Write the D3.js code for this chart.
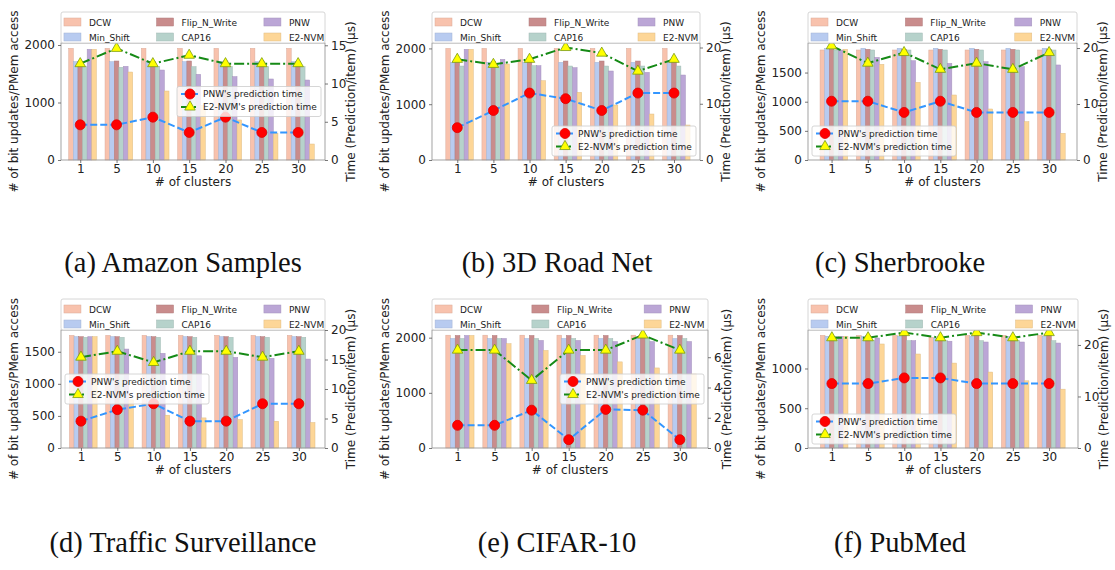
<!DOCTYPE html>
<html>
<head>
<meta charset="utf-8">
<script src="https://cdn.jsdelivr.net/npm/d3@7"></script>
<style>
body { margin: 0; background: #fff; }
text { font-family: "DejaVu Sans", sans-serif; }
</style>
</head>
<body>
<svg id="chart" width="1115" height="570"></svg>
<script>
// categories and series
var clusters = ["1", "5", "10", "15", "20", "25", "30"];
var methods = ["DCW", "Min_Shift", "Flip_N_Write", "CAP16", "PNW", "E2-NVM"];
var lineNames = ["PNW's prediction time", "E2-NVM's prediction time"];
var captions = ["(a) Amazon Samples", "(b) 3D Road Net", "(c) Sherbrooke",
                "(d) Traffic Surveillance", "(e) CIFAR-10", "(f) PubMed"];

// bit updates per PMem access, one row per method (DCW .. E2-NVM)
var amazonBits = [
  [1942, 1942, 1942, 1942, 1942, 1942, 1942],
  [1710, 1710, 1710, 1710, 1710, 1710, 1710],
  [1710, 1722, 1710, 1722, 1722, 1722, 1710],
  [1623, 1612, 1623, 1623, 1623, 1623, 1623],
  [1925, 1629, 1565, 1490, 1450, 1409, 1391],
  [1925, 1530, 1200, 950, 696, 464, 278]
];
var roadBits = [
  [2000, 2000, 2000, 2000, 2000, 2000, 2000],
  [1750, 1750, 1750, 1750, 1750, 1750, 1750],
  [1750, 1762, 1762, 1774, 1774, 1774, 1774],
  [1684, 1690, 1690, 1684, 1684, 1684, 1684],
  [1984, 1804, 1690, 1655, 1595, 1571, 1523],
  [1984, 1720, 1421, 1213, 986, 824, 627]
];
var sherbrookeBits = [
  [1887, 1887, 1887, 1887, 1887, 1887, 1887],
  [1916, 1916, 1916, 1916, 1916, 1916, 1916],
  [1899, 1899, 1899, 1899, 1899, 1899, 1899],
  [1887, 1887, 1887, 1887, 1887, 1887, 1887],
  [1887, 1761, 1703, 1658, 1686, 1600, 1630],
  [1899, 1641, 1332, 1115, 875, 657, 458]
];
var trafficBits = [
  [1755, 1755, 1755, 1755, 1755, 1755, 1755],
  [1735, 1735, 1735, 1735, 1735, 1735, 1735],
  [1735, 1735, 1735, 1735, 1735, 1735, 1735],
  [1725, 1725, 1725, 1725, 1725, 1725, 1725],
  [1735, 1542, 1475, 1437, 1412, 1397, 1386],
  [1735, 750, 511, 469, 443, 417, 397]
];
var cifarBits = [
  [2045, 2045, 2045, 2045, 2045, 2045, 2045],
  [1985, 1985, 1985, 1985, 1985, 1985, 1985],
  [2040, 2040, 2040, 2040, 2040, 2040, 2040],
  [1985, 1985, 1985, 1985, 1985, 1985, 1985],
  [2040, 1985, 1950, 1950, 1930, 1930, 1930],
  [2040, 1890, 1768, 1676, 1561, 1451, 1340]
];
var pubmedBits = [
  [1417, 1417, 1417, 1392, 1417, 1417, 1417],
  [1405, 1405, 1405, 1383, 1405, 1405, 1405],
  [1405, 1417, 1430, 1405, 1430, 1405, 1430],
  [1405, 1350, 1350, 1350, 1350, 1350, 1350],
  [1405, 1383, 1350, 1343, 1333, 1333, 1320],
  [1405, 1308, 1182, 1068, 955, 845, 740]
];

// prediction time (us / item)
var amazonPNWTime = [4.6, 4.6, 5.6, 3.6, 5.6, 3.6, 3.6];
var amazonE2Time = [12.6, 14.6, 12.6, 13.7, 12.6, 12.6, 12.6];
var roadPNWTime = [5.75, 8.8, 11.9, 10.9, 8.8, 11.9, 11.9];
var roadE2Time = [17.9, 17.0, 17.9, 20.0, 19.0, 15.8, 17.9];
var sherbrookePNWTime = [10.5, 10.5, 8.5, 10.5, 8.5, 8.5, 8.5];
var sherbrookeE2Time = [20.4, 17.3, 19.2, 16.2, 17.3, 16.2, 19.2];
var trafficPNWTime = [4.55, 6.5, 7.5, 4.55, 4.55, 7.5, 7.5];
var trafficE2Time = [15.4, 16.4, 14.5, 16.4, 16.4, 15.4, 16.4];
var cifarPNWTime = [1.5, 1.5, 2.5, 0.55, 2.55, 2.5, 0.55];
var cifarE2Time = [6.47, 6.47, 4.47, 6.47, 6.47, 7.47, 6.47];
var pubmedPNWTime = [12.5, 12.5, 13.6, 13.6, 12.5, 12.5, 12.5];
var pubmedE2Time = [21.4, 21.4, 22.4, 21.4, 22.4, 21.4, 22.4];

// tick labels and axis ranges
var leftTicks = [[0, 1000, 2000], [0, 1000, 2000], [0, 500, 1000, 1500],
                 [0, 500, 1000, 1500], [0, 1000, 2000], [0, 500, 1000]];
var rightTicks = [[0, 5, 10, 15], [0, 10, 20], [0, 10, 20],
                  [0, 5, 10, 15, 20], [0, 2, 4, 6], [0, 10, 20]];
var leftMax = [2035, 2097, 2007, 1839, 2139, 1484];
var rightMax = [15.3, 20.8, 20.9, 20, 7.8, 22.9];

var panels = [
  { bits: amazonBits, pnw: amazonPNWTime, e2: amazonE2Time },
  { bits: roadBits, pnw: roadPNWTime, e2: roadE2Time },
  { bits: sherbrookeBits, pnw: sherbrookePNWTime, e2: sherbrookeE2Time },
  { bits: trafficBits, pnw: trafficPNWTime, e2: trafficE2Time },
  { bits: cifarBits, pnw: cifarPNWTime, e2: cifarE2Time },
  { bits: pubmedBits, pnw: pubmedPNWTime, e2: pubmedE2Time }
];

// layout of each axes box
var boxes = [
  { x: 61, y: 43, w: 264, h: 117, xlim: [-0.53, 6.74], legend: "center right" },
  { x: 432, y: 43, w: 268, h: 117, xlim: [-0.70, 6.72], legend: "lower right" },
  { x: 808, y: 43, w: 269, h: 117, xlim: [-0.65, 6.77], legend: "lower left" },
  { x: 61, y: 330, w: 264, h: 118, xlim: [-0.55, 6.72], legend: "center left" },
  { x: 432, y: 330, w: 276, h: 118, xlim: [-0.69, 6.76], legend: "center right" },
  { x: 808, y: 330, w: 270, h: 118, xlim: [-0.66, 6.80], legend: "lower left" }
];
var captionX = [183, 557, 900];
var captionY = [272, 552];

var colors = ["#f8c2ad", "#b8cbf0", "#c98c8c", "#b6d2cb", "#bba6d6", "#fdd697"];
var pnwColor = "#3396ff";
var e2Color = "#168a16";
var barW = 0.127;

var svg = d3.select("#chart");

function styleAxis(sel) {
  sel.select(".domain").remove();
  sel.selectAll(".tick line").attr("stroke", "#555").attr("stroke-width", 0.8);
  sel.selectAll(".tick text").attr("fill", "#222").style("font-size", "12px")
    .style("font-family", "'DejaVu Sans', sans-serif");
}

function drawPanel(p, box, idx) {
  var g = svg.append("g").attr("transform", "translate(" + box.x + "," + box.y + ")");
  var x = d3.scaleLinear().domain(box.xlim).range([0, box.w]);
  var yL = d3.scaleLinear().domain([0, leftMax[idx]]).range([box.h, 0]);
  var yR = d3.scaleLinear().domain([0, rightMax[idx]]).range([box.h, 0]);
  var bwPx = x(barW) - x(0);

  // bars
  p.bits.forEach(function(vals, k) {
    g.selectAll(null)
      .data(vals)
      .enter().append("rect")
      .attr("x", function(d, i) { return x(i + (k - 2.5) * barW); })
      .attr("width", bwPx)
      .attr("y", function(d) { return yL(d); })
      .attr("height", function(d) { return box.h - yL(d); })
      .attr("fill", colors[k])
      .attr("stroke", d3.color(colors[k]).darker(0.35))
      .attr("stroke-width", 0.5);
  });

  // lines
  var line = d3.line()
    .x(function(d, i) { return x(i); })
    .y(function(d) { return yR(d); });
  g.append("path").datum(p.e2).attr("d", line)
    .attr("fill", "none").attr("stroke", e2Color).attr("stroke-width", 2)
    .attr("stroke-dasharray", "10,3,2,3");
  g.append("path").datum(p.pnw).attr("d", line)
    .attr("fill", "none").attr("stroke", pnwColor).attr("stroke-width", 2)
    .attr("stroke-dasharray", "7,3");

  g.selectAll(null).data(p.pnw).enter().append("circle")
    .attr("cx", function(d, i) { return x(i); })
    .attr("cy", function(d) { return yR(d); })
    .attr("r", 5)
    .attr("fill", "#ff0000").attr("stroke", "#e00000").attr("stroke-width", 0.8);
  g.selectAll(null).data(p.e2).enter().append("path")
    .attr("d", d3.symbol(d3.symbolTriangle, 48))
    .attr("transform", function(d, i) { return "translate(" + x(i) + "," + yR(d) + ")"; })
    .attr("fill", "#ffff00").attr("stroke", "#7a9a10").attr("stroke-width", 0.8);

  // frame
  g.append("rect").attr("width", box.w).attr("height", box.h)
    .attr("fill", "none").attr("stroke", "#999").attr("stroke-width", 0.9);

  // axes
  g.append("g").attr("transform", "translate(0," + box.h + ")")
    .call(d3.axisBottom(x).tickValues(d3.range(clusters.length))
      .tickFormat(function(i) { return clusters[i]; }).tickSize(3).tickPadding(1))
    .call(styleAxis);
  g.append("g")
    .call(d3.axisLeft(yL).tickValues(leftTicks[idx]).tickFormat(d3.format("d"))
      .tickSize(3).tickPadding(3))
    .call(styleAxis);
  var rAxis = g.append("g").attr("transform", "translate(" + box.w + ",0)")
    .call(d3.axisRight(yR).tickValues(rightTicks[idx]).tickFormat(d3.format("d"))
      .tickSize(3).tickPadding(3))
    .call(styleAxis);

  var maxLabel = 0;
  rAxis.selectAll(".tick text").each(function() {
    maxLabel = Math.max(maxLabel, this.getComputedTextLength());
  });

  // axis titles
  g.append("text").attr("x", box.w / 2).attr("y", box.h + 26)
    .attr("text-anchor", "middle").style("font-size", "12px").attr("fill", "#222")
    .text("# of clusters");
  g.append("text")
    .attr("transform", "translate(-43," + (box.h / 2) + ") rotate(-90)")
    .attr("text-anchor", "middle").style("font-size", "12px").attr("fill", "#222")
    .text("# of bit updates/PMem access");
  g.append("text")
    .attr("transform", "translate(" + (box.w + maxLabel + 15) + "," + (box.h / 2) + ") rotate(-90)")
    .attr("text-anchor", "middle").style("font-size", "12px").attr("fill", "#222")
    .text("Time (Prediction/item) (\u00b5s)");

  // bar legend above the axes
  var lg = g.append("g").attr("transform", "translate(0," + (-31) + ")");
  lg.append("rect").attr("width", box.w).attr("height", 31).attr("rx", 2)
    .attr("fill", "#fff").attr("stroke", "#ccc").attr("stroke-width", 0.8);
  var colX = [3, 97, 206].map(function(v) { return v * box.w / 268; });
  methods.forEach(function(m, k) {
    var cx = colX[Math.floor(k / 2)];
    var cy = k % 2 === 0 ? 5 : 20;
    lg.append("rect").attr("x", cx).attr("y", cy + 1).attr("width", 17).attr("height", 8)
      .attr("fill", colors[k]).attr("stroke", d3.color(colors[k]).darker(0.35)).attr("stroke-width", 0.5);
    lg.append("text").attr("x", cx + 25).attr("y", cy + 8.5)
      .style("font-size", "9px").attr("fill", "#222").text(m);
  });

  // line legend inside the axes
  var lw = 144, lh = 30, pad = 4;
  var lx = box.legend.indexOf("left") >= 0 ? pad : box.w - pad - lw;
  var ly = box.legend.indexOf("lower") >= 0 ? box.h - pad - lh : box.h / 2 - lh / 2;
  var ll = g.append("g").attr("transform", "translate(" + lx + "," + ly + ")");
  ll.append("rect").attr("width", lw).attr("height", lh).attr("rx", 2)
    .attr("fill", "#fff").attr("fill-opacity", 0.8).attr("stroke", "#ccc").attr("stroke-width", 0.8);
  ll.append("line").attr("x1", 4).attr("x2", 22).attr("y1", 7.5).attr("y2", 7.5)
    .attr("stroke", pnwColor).attr("stroke-width", 2).attr("stroke-dasharray", "7,3");
  ll.append("circle").attr("cx", 13).attr("cy", 7.5).attr("r", 5)
    .attr("fill", "#ff0000").attr("stroke", "#e00000").attr("stroke-width", 0.8);
  ll.append("line").attr("x1", 4).attr("x2", 22).attr("y1", 20.5).attr("y2", 20.5)
    .attr("stroke", e2Color).attr("stroke-width", 2).attr("stroke-dasharray", "10,3,2,3");
  ll.append("path").attr("d", d3.symbol(d3.symbolTriangle, 48))
    .attr("transform", "translate(13,20.5)")
    .attr("fill", "#ffff00").attr("stroke", "#7a9a10").attr("stroke-width", 0.8);
  lineNames.forEach(function(n, r) {
    ll.append("text").attr("x", 26).attr("y", 10.5 + r * 13)
      .style("font-size", "9px").attr("fill", "#222").text(n);
  });
}

panels.forEach(function(p, i) { drawPanel(p, boxes[i], i); });

// sub-figure captions
svg.selectAll(".caption")
  .data(captions)
  .enter().append("text")
  .attr("class", "caption")
  .attr("x", function(d, i) { return captionX[i % 3]; })
  .attr("y", function(d, i) { return captionY[Math.floor(i / 3)]; })
  .attr("text-anchor", "middle")
  .style("font-family", "'Liberation Serif', serif")
  .style("font-size", "28.5px")
  .attr("fill", "#111")
  .text(function(d) { return d; });
</script>
</body>
</html>
